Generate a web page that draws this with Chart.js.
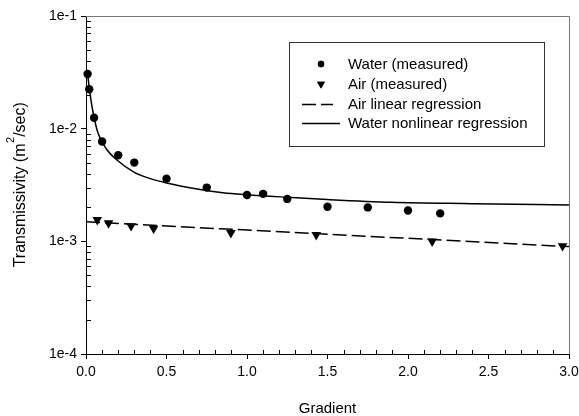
<!DOCTYPE html>
<html>
<head>
<meta charset="utf-8">
<script src="https://cdn.jsdelivr.net/npm/chart.js@4"></script>
<style>
  html, body { margin: 0; padding: 0; background: #fff; }
  canvas { display: block; }
</style>
</head>
<body>
<canvas id="chart" width="579" height="416"></canvas>
<script>
// values
const waterX = [0.01, 0.02, 0.05, 0.1, 0.2, 0.3, 0.5, 0.75, 1.0, 1.1, 1.25, 1.5, 1.75, 2.0, 2.2];
const waterY = [0.0306, 0.0224, 0.0125, 0.0077, 0.0058, 0.0050, 0.0036, 0.0030, 0.00258, 0.00264, 0.00238, 0.00203, 0.0020, 0.00188, 0.00177];

const airX = [0.07, 0.14, 0.28, 0.42, 0.9, 1.43, 2.15, 2.96];
const airY = [0.00155, 0.00145, 0.00137, 0.0013, 0.00119, 0.00114, 0.0010, 0.00091];

const airFitX = [0, 3.0];
const airFitY = [0.00149, 0.000898];

const waterFitX = [0.008, 0.025, 0.045, 0.075, 0.13, 0.19, 0.3, 0.4, 0.5, 0.7, 0.85, 1.0, 1.25, 1.5, 1.9, 2.4, 3.0];
const waterFitY = [0.032, 0.0205, 0.0137, 0.0091, 0.0065, 0.0053, 0.0041, 0.0036, 0.0033, 0.0029, 0.0027, 0.00259, 0.00246, 0.00235, 0.00222, 0.00216, 0.0021];

const yTicks = [1e-4, 1e-3, 1e-2, 1e-1];
const xTickStep = 0.5;

const FONT = 'Arial, "Liberation Sans", sans-serif';

const pts = (xs, ys) => xs.map((x, i) => ({ x: x, y: ys[i] }));

// top/right frame, inner minor ticks, y title with superscript, boxed legend
const extras = {
    id: 'extras',
    afterDraw(chart) {
        const ctx = chart.ctx;
        const a = chart.chartArea;
        const xs = chart.scales.x;
        const ys = chart.scales.y;
        ctx.save();

        ctx.strokeStyle = '#777';
        ctx.lineWidth = 1;
        ctx.beginPath();
        ctx.moveTo(a.left, Math.round(a.top) + 0.5);
        ctx.lineTo(Math.round(a.right) + 0.5, Math.round(a.top) + 0.5);
        ctx.lineTo(Math.round(a.right) + 0.5, a.bottom);
        ctx.stroke();

        ctx.strokeStyle = '#000';
        ctx.beginPath();
        for (let i = 1; i < 30; i++) {
            if (i % 5 === 0) continue;
            const px = Math.round(xs.getPixelForValue(i / 10)) + 0.5;
            ctx.moveTo(px, a.bottom);
            ctx.lineTo(px, a.bottom - 4);
        }
        for (let k = -4; k < -1; k++) {
            for (let d = 2; d <= 9; d++) {
                const py = Math.round(ys.getPixelForValue(d * Math.pow(10, k))) + 0.5;
                ctx.moveTo(a.left, py);
                ctx.lineTo(a.left + 5, py);
            }
        }
        ctx.stroke();

        // y title: Transmissivity (m^2/sec)
        ctx.fillStyle = '#000';
        ctx.textBaseline = 'alphabetic';
        ctx.textAlign = 'left';
        const big = '16px ' + FONT, small = '11px ' + FONT;
        ctx.font = big;
        const w1 = ctx.measureText('Transmissivity (m').width;
        const w3 = ctx.measureText('/sec)').width;
        ctx.font = small;
        const w2 = ctx.measureText('2').width;
        const total = w1 + w2 + w3;
        const cy = (a.top + a.bottom) / 2;
        ctx.save();
        ctx.translate(25, cy + total / 2);
        ctx.rotate(-Math.PI / 2);
        ctx.font = big;
        ctx.fillText('Transmissivity (m', 0, 0);
        ctx.font = small;
        ctx.fillText('2', w1 + 0.5, -11);
        ctx.font = big;
        ctx.fillText('/sec)', w1 + w2 + 0.5, 0);
        ctx.restore();

        // legend box
        const bx = 289.5, by = 42.5, bw = 255, bh = 104;
        ctx.fillStyle = '#fff';
        ctx.fillRect(bx, by, bw, bh);
        ctx.strokeStyle = '#333';
        ctx.strokeRect(bx, by, bw, bh);

        const rows = [64, 84, 104, 123];
        const mx = 321;
        const ds = chart.data.datasets;
        ctx.fillStyle = '#000';
        ctx.font = '15px ' + FONT;
        ctx.textBaseline = 'middle';
        ctx.textAlign = 'left';
        ds.forEach((d, i) => {
            const y = rows[i];
            if (d.showLine) {
                ctx.save();
                ctx.strokeStyle = '#000';
                ctx.lineWidth = 1.5;
                ctx.setLineDash(d.borderDash || []);
                ctx.beginPath();
                ctx.moveTo(302, y + 0.5);
                ctx.lineTo(d.borderDash ? 333 : 340, y + 0.5);
                ctx.stroke();
                ctx.restore();
            } else {
                Chart.helpers.drawPoint(ctx, {
                    pointStyle: d.pointStyle,
                    rotation: d.pointRotation || 0,
                    radius: d.pointRadius - 1,
                    borderWidth: 0
                }, mx, y);
                ctx.fill();
            }
            ctx.fillText(d.label, 348, y + 1);
        });
        ctx.restore();
    }
};

new Chart(document.getElementById('chart'), {
    type: 'scatter',
    data: {
        datasets: [
            {
                label: 'Water (measured)',
                data: pts(waterX, waterY),
                pointStyle: 'circle',
                pointRadius: 4.2,
                backgroundColor: '#000',
                borderColor: '#000',
                borderWidth: 0,
                clip: false
            },
            {
                label: 'Air (measured)',
                data: pts(airX, airY),
                pointStyle: 'triangle',
                pointRotation: 180,
                pointRadius: 5.6,
                backgroundColor: '#000',
                borderColor: '#000',
                borderWidth: 0,
                clip: false
            },
            {
                label: 'Air linear regression',
                data: pts(airFitX, airFitY),
                showLine: true,
                pointRadius: 0,
                borderColor: '#000',
                borderWidth: 1.5,
                borderDash: [14, 5]
            },
            {
                label: 'Water nonlinear regression',
                data: pts(waterFitX, waterFitY),
                showLine: true,
                pointRadius: 0,
                borderColor: '#000',
                borderWidth: 1.5,
                cubicInterpolationMode: 'monotone'
            }
        ]
    },
    options: {
        responsive: false,
        animation: false,
        layout: { padding: { left: 0, top: 16, right: 10, bottom: 0 } },
        plugins: {
            legend: { display: false },
            tooltip: { enabled: false }
        },
        scales: {
            x: {
                type: 'linear',
                min: 0,
                max: 3,
                afterFit(s) { s.height = 62; s.paddingLeft = 0; s.paddingRight = 0; },
                border: { display: true, color: '#000', width: 1 },
                grid: { display: true, drawOnChartArea: false, tickLength: 5, color: '#000' },
                ticks: {
                    stepSize: xTickStep,
                    padding: 5,
                    color: '#000',
                    font: { family: FONT, size: 14 },
                    maxRotation: 0,
                    callback: v => v.toFixed(1)
                },
                title: {
                    display: true,
                    text: 'Gradient',
                    color: '#000',
                    font: { family: FONT, size: 15, lineHeight: 1 },
                    padding: { top: 0, bottom: 0 }
                }
            },
            y: {
                type: 'logarithmic',
                min: yTicks[0],
                max: yTicks[yTicks.length - 1],
                afterFit(s) { s.width = 86; },
                afterBuildTicks(s) { s.ticks = yTicks.map(v => ({ value: v })); },
                border: { display: true, color: '#000', width: 1 },
                grid: { display: true, drawOnChartArea: false, tickLength: 5, color: '#000' },
                ticks: {
                    padding: 4,
                    color: '#000',
                    font: { family: FONT, size: 14 },
                    callback: v => '1e' + Math.round(Math.log10(v))
                },
                title: { display: false }
            }
        }
    },
    plugins: [extras]
});
</script>
</body>
</html>
